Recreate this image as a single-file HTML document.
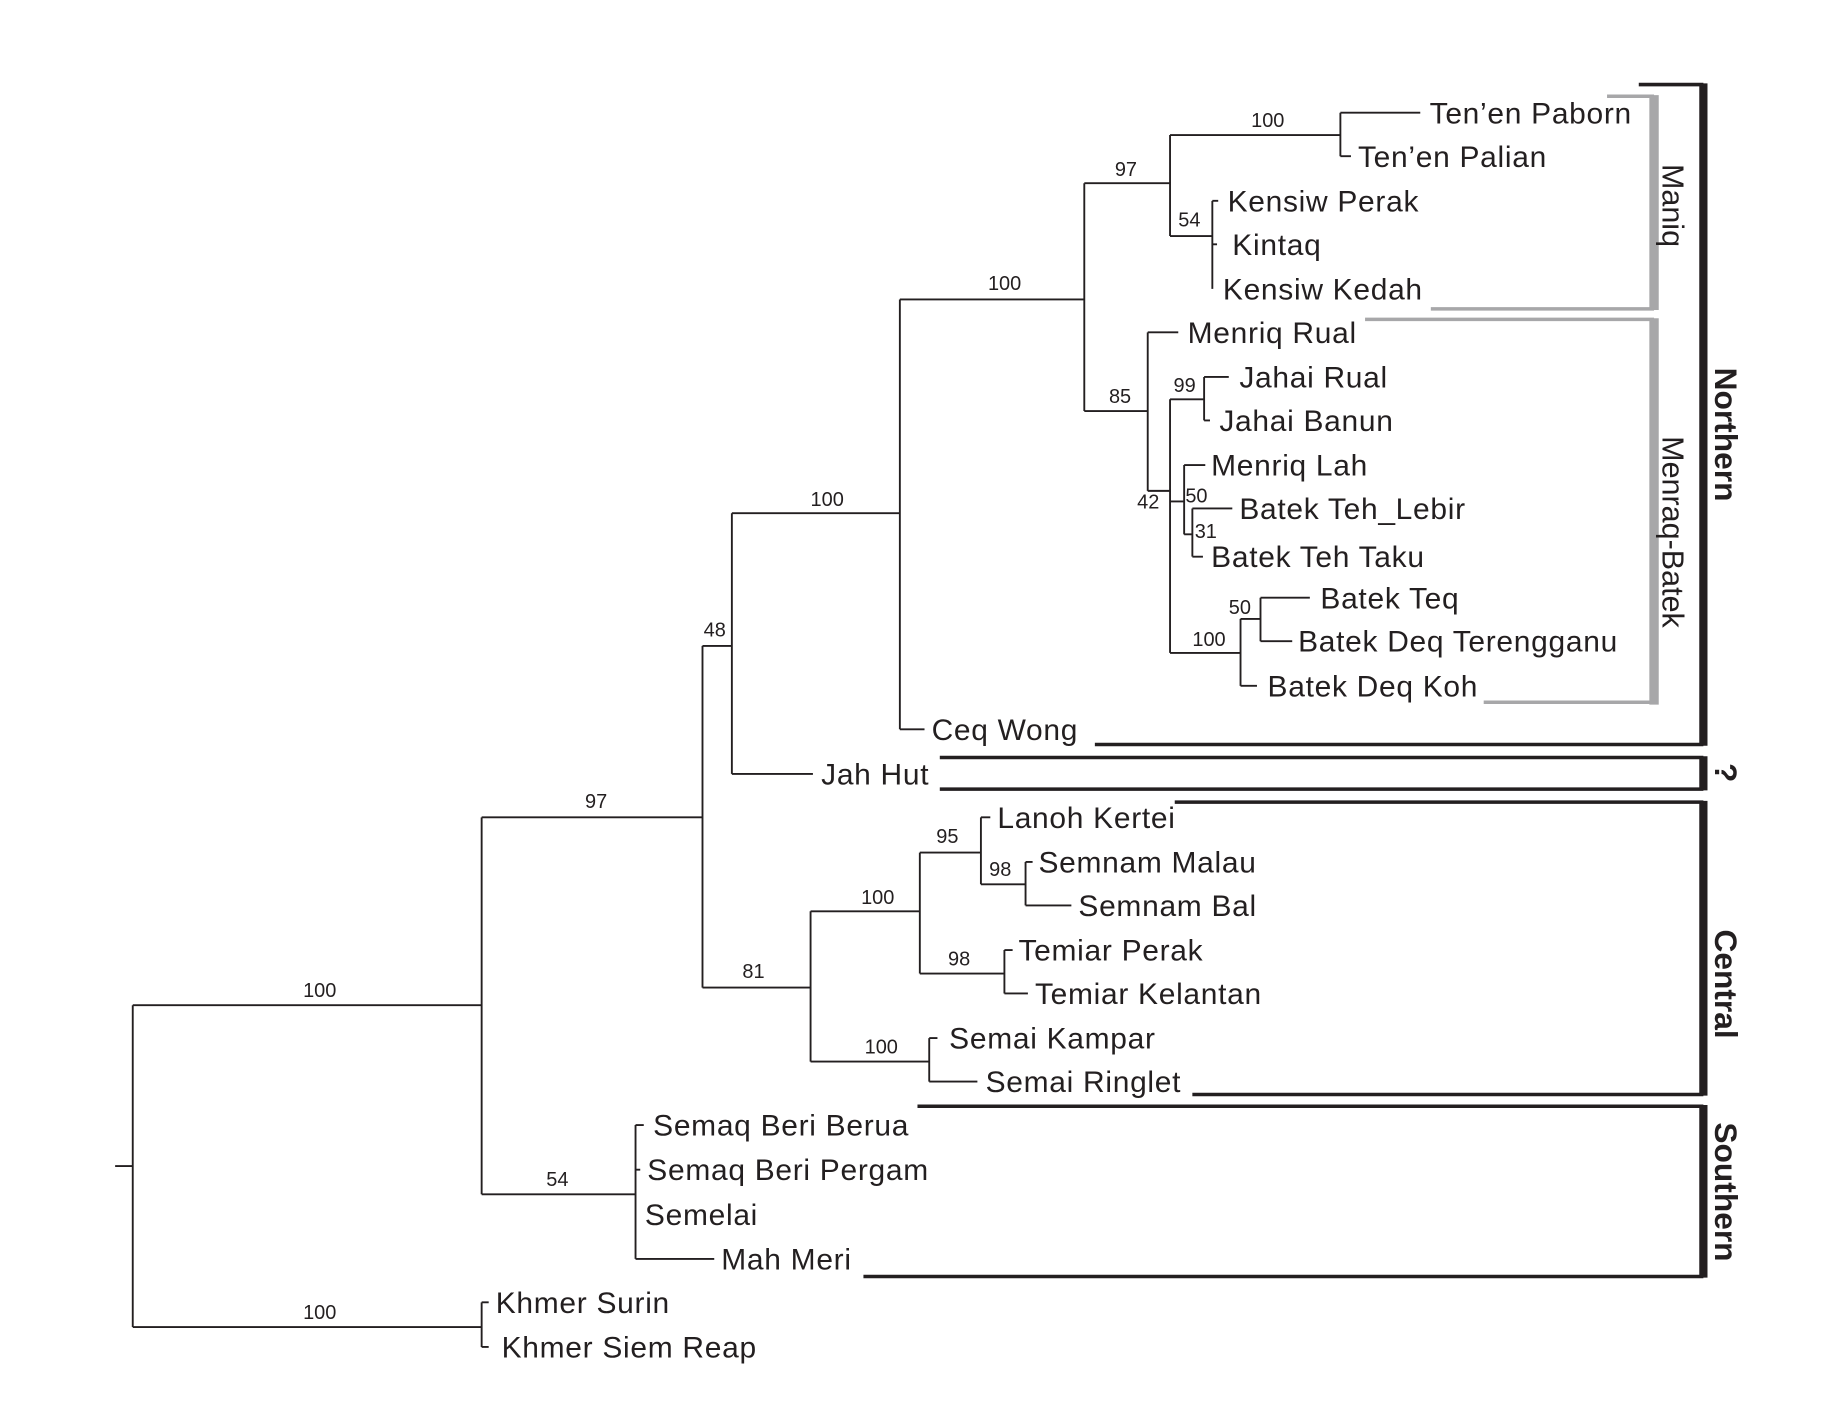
<!DOCTYPE html>
<html><head><meta charset="utf-8"><style>
html,body{margin:0;padding:0;background:#fff;}
svg{display:block;}
text{font-family:"Liberation Sans",Arial,sans-serif;fill:#231f20;}
.l{font-size:25.5px;letter-spacing:0.6px;}
.s{font-size:17px;}
</style></head><body>
<svg width="1842" height="1428" viewBox="0 0 1568 1216" preserveAspectRatio="none" xmlns="http://www.w3.org/2000/svg">
<g stroke="#231f20" stroke-width="1.6" fill="none">
<path d="M98 993H113M113 856V1130M113 1130H410M410 1109V1147M410 1109H416M410 1147H416"/>
<path d="M113 856H410M410 696V1017"/>
<path d="M410 1017H541M541 958V1072M541 958H548M541 996H545M541 1072H608"/>
<path d="M410 696H598M598 550V841"/>
<path d="M598 841H690M690 776V904M690 776H783M783 726V829M783 726H835M835 696V753M835 696H843M835 753H873M873 734V771M873 734H879M873 771H912"/>
<path d="M783 829H855M855 809V846M855 809H862M855 846H875"/>
<path d="M690 904H791M791 884V921M791 884H798M791 921H832"/>
<path d="M598 550H623M623 437V659M623 659H692"/>
<path d="M623 437H766M766 255V621M766 621H787"/>
<path d="M766 255H923M923 156V350"/>
<path d="M923 156H996M996 115V201M996 115H1141M1141 96V133M1141 96H1209M1141 133H1150"/>
<path d="M996 201H1032M1032 171V246M1032 171H1037M1032 208H1036"/>
<path d="M923 350H977M977 283V418M977 283H1003"/>
<path d="M977 418H996M996 340V556M996 340H1025M1025 321V358M1025 321H1046M1025 358H1030"/>
<path d="M996 427H1008M1008 396V455M1008 396H1026M1008 455H1015M1015 433V474M1015 433H1049M1015 474H1024"/>
<path d="M996 556H1056M1056 527V584M1056 584H1070M1056 527H1073M1073 509V546M1073 509H1115M1073 546H1100"/>
</g>
<g stroke="#a7a7a9" fill="none">
<path d="M1368 82H1408M1218 263H1408M1162 272H1408M1263 598H1408" stroke-width="3"/>
<path d="M1408 81V264M1408 271V600" stroke-width="8"/>
</g>
<g stroke="#231f20" fill="none">
<path d="M1395 72H1450M932 634H1450M800 645H1450M800 672H1450M1000 683H1450M1015 932H1450M781 942H1450M735 1087H1450" stroke-width="3"/>
<path d="M1450 71V635M1450 644V673M1450 682V933M1450 941V1088" stroke-width="7"/>
</g>
<g class="l">
<text x="1217" y="105">Ten’en Paborn</text>
<text x="1156" y="142">Ten’en Palian</text>
<text x="1045" y="180">Kensiw Perak</text>
<text x="1049" y="217">Kintaq</text>
<text x="1041" y="255">Kensiw Kedah</text>
<text x="1011" y="292">Menriq Rual</text>
<text x="1055" y="330">Jahai Rual</text>
<text x="1038" y="367">Jahai Banun</text>
<text x="1031" y="405">Menriq Lah</text>
<text x="1055" y="442">Batek Teh_Lebir</text>
<text x="1031" y="483">Batek Teh Taku</text>
<text x="1124" y="518">Batek Teq</text>
<text x="1105" y="555">Batek Deq Terengganu</text>
<text x="1079" y="593">Batek Deq Koh</text>
<text x="793" y="630">Ceq Wong</text>
<text x="699" y="668">Jah Hut</text>
<text x="849" y="705">Lanoh Kertei</text>
<text x="884" y="743">Semnam Malau</text>
<text x="918" y="780">Semnam Bal</text>
<text x="867" y="818">Temiar Perak</text>
<text x="881" y="855">Temiar Kelantan</text>
<text x="808" y="893">Semai Kampar</text>
<text x="839" y="930">Semai Ringlet</text>
<text x="556" y="967">Semaq Beri Berua</text>
<text x="551" y="1005">Semaq Beri Pergam</text>
<text x="549" y="1043">Semelai</text>
<text x="614" y="1081">Mah Meri</text>
<text x="422" y="1118">Khmer Surin</text>
<text x="427" y="1156">Khmer Siem Reap</text>
</g>
<g class="s">
<text x="1065" y="108">100</text>
<text x="949" y="150">97</text>
<text x="1003" y="193">54</text>
<text x="841" y="247">100</text>
<text x="944" y="343">85</text>
<text x="999" y="334">99</text>
<text x="968" y="433">42</text>
<text x="1009" y="428">50</text>
<text x="1017" y="458">31</text>
<text x="1046" y="523">50</text>
<text x="1015" y="550">100</text>
<text x="690" y="431">100</text>
<text x="599" y="542">48</text>
<text x="498" y="688">97</text>
<text x="797" y="718">95</text>
<text x="842" y="746">98</text>
<text x="733" y="770">100</text>
<text x="807" y="822">98</text>
<text x="632" y="833">81</text>
<text x="736" y="897">100</text>
<text x="258" y="849">100</text>
<text x="465" y="1010">54</text>
<text x="258" y="1123">100</text>
</g>
<g font-family="Liberation Sans,Arial,sans-serif" fill="#231f20">
<text transform="translate(1415,175) rotate(90)" text-anchor="middle" font-size="26">Maniq</text>
<text transform="translate(1415,453) rotate(90)" text-anchor="middle" font-size="26">Menraq-Batek</text>
<text transform="translate(1460,370) rotate(90)" text-anchor="middle" font-size="27" font-weight="bold">Northern</text>
<text transform="translate(1460,658) rotate(90)" text-anchor="middle" font-size="27" font-weight="bold">?</text>
<text transform="translate(1460,838) rotate(90)" text-anchor="middle" font-size="27" font-weight="bold">Central</text>
<text transform="translate(1460,1015) rotate(90)" text-anchor="middle" font-size="27" font-weight="bold">Southern</text>
</g>
</svg>
</body></html>
